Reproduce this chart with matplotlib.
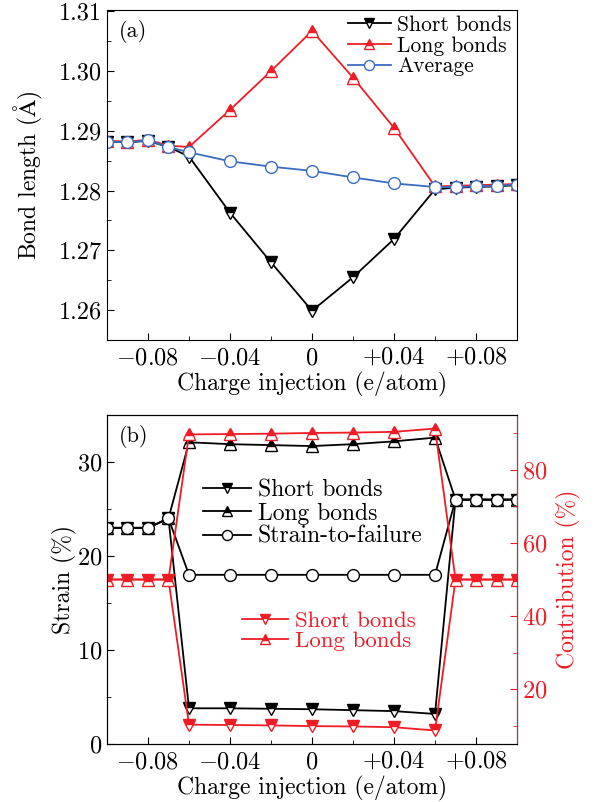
import numpy as np
import matplotlib
matplotlib.use('Agg')
import matplotlib.pyplot as plt
from matplotlib.ticker import MultipleLocator, FixedLocator, FixedFormatter

plt.rcParams['font.family'] = ['cmr10', 'DejaVu Serif']
plt.rcParams['mathtext.fontset'] = 'cm'
plt.rcParams['axes.formatter.use_mathtext'] = True
plt.rcParams['axes.unicode_minus'] = False

# charge injection (e/atom)
charge = [-0.10, -0.09, -0.08, -0.07, -0.06, -0.04, -0.02, 0.0,
          0.02, 0.04, 0.06, 0.07, 0.08, 0.09, 0.10]

# (a) bond length (Angstrom)
short_len = [1.2882, 1.2881, 1.2883, 1.2873, 1.2857, 1.2763, 1.2680, 1.2599,
             1.2655, 1.2719, 1.2802, 1.2805, 1.2806, 1.2807, 1.2809]
long_len = [1.2883, 1.2882, 1.2885, 1.2875, 1.2873, 1.2935, 1.3000, 1.3067,
            1.2989, 1.2905, 1.2807, 1.2808, 1.2809, 1.2810, 1.2811]
avg_len = [1.2882, 1.2881, 1.2884, 1.2873, 1.2864, 1.2849, 1.2840, 1.2833,
           1.2822, 1.2812, 1.2806, 1.2806, 1.2807, 1.2808, 1.2810]

# (b) strain (%)
short_strain = [23, 23, 23, 24, 3.8, 3.8, 3.75, 3.7, 3.6, 3.5, 3.2, 26, 26, 26, 26]
long_strain = [23, 23, 23, 24, 32.1, 31.9, 31.8, 31.7, 31.9, 32.2, 32.6, 26, 26, 26, 26]
failure_strain = [23, 23, 23, 24, 18, 18, 18, 18, 18, 18, 18, 26, 26, 26, 26]

# (b) contribution (%)
short_contrib = [50, 50, 50, 50, 10.3, 10.2, 10.1, 9.9, 9.8, 9.6, 8.7, 50, 50, 50, 50]
long_contrib = [50, 50, 50, 50, 89.7, 89.8, 89.9, 90.1, 90.2, 90.4, 91.3, 50, 50, 50, 50]

xticks = [-0.08, -0.04, 0.0, 0.04, 0.08]
xticklabels = [r'$-0.08$', r'$-0.04$', r'$0$', r'$+0.04$', r'$+0.08$']

RED = '#ee1c25'
BLUE = '#3a6cc0'
TS = 17.5   # tick labels
LS = 17     # axis labels

fig = plt.figure(figsize=(5.96, 8.02), dpi=100)
ax1 = fig.add_axes([0.1795, 0.576, 0.688, 0.4115])
ax2 = fig.add_axes([0.1795, 0.0723, 0.688, 0.4102])


def style_x(ax):
    ax.set_xlim(-0.1, 0.1)
    ax.xaxis.set_major_locator(FixedLocator(xticks))
    ax.xaxis.set_major_formatter(FixedFormatter(xticklabels))
    ax.xaxis.set_minor_locator(MultipleLocator(0.02))
    ax.tick_params(axis='x', which='major', pad=5)
    ax.set_xlabel('Charge injection (e/atom)', fontsize=LS, labelpad=2)


def half(marker, color, ms=8.5):
    return dict(marker=marker, color=color, markerfacecolor=color,
                markerfacecoloralt='white', fillstyle='top',
                markeredgecolor=color, ms=ms, lw=1.3)


# ---- panel (a)
ax1.plot(charge, short_len, label='Short bonds', **half('v', 'black'))
ax1.plot(charge, long_len, label='Long bonds', **half('^', RED))
ax1.plot(charge, avg_len, 'o-', color=BLUE, mfc='white', mec=BLUE, ms=8.5,
         lw=1.3, label='Average')
ax1.set_ylim(1.255, 1.3102)
ax1.yaxis.set_major_locator(MultipleLocator(0.01))
ax1.yaxis.set_minor_locator(MultipleLocator(0.005))
ax1.yaxis.set_major_formatter(plt.FormatStrFormatter('%.2f'))
ax1.tick_params(which='both', direction='in', top=False, right=False,
                labelsize=TS)
ax1.tick_params(which='major', length=5)
ax1.tick_params(which='minor', length=3)
style_x(ax1)
ax1.set_ylabel('Bond length (' + r'$\mathrm{\AA}$' + ')', fontsize=LS,
               labelpad=10)
ax1.text(0.03, 0.97, '(a)', transform=ax1.transAxes, fontsize=16,
         va='top', ha='left')
ax1.legend(loc='upper right', frameon=False, fontsize=15.5, handlelength=2.0,
           handletextpad=0.3, borderaxespad=0.05, labelspacing=0.05,
           markerscale=0.85, borderpad=0.2)

# ---- panel (b)
l1, = ax2.plot(charge, short_strain, label='Short bonds', **half('v', 'black'))
l2, = ax2.plot(charge, long_strain, label='Long bonds', **half('^', 'black'))
l3, = ax2.plot(charge, failure_strain, 'o-', color='black', mfc='white',
               mec='black', ms=8.5, lw=1.3, label='Strain-to-failure')
ax2.set_ylim(0, 35)
ax2.yaxis.set_major_locator(MultipleLocator(10))
ax2.yaxis.set_minor_locator(MultipleLocator(5))
ax2.tick_params(which='both', direction='in', top=False, right=False,
                labelsize=TS)
ax2.tick_params(which='major', length=5)
ax2.tick_params(which='minor', length=3)
style_x(ax2)
ax2.set_ylabel('Strain (%)', fontsize=LS, labelpad=0)
ax2.text(0.03, 0.97, '(b)', transform=ax2.transAxes, fontsize=16,
         va='top', ha='left')

ax3 = ax2.twinx()
r1, = ax3.plot(charge, short_contrib, label='Short bonds', **half('v', RED))
r2, = ax3.plot(charge, long_contrib, label='Long bonds', **half('^', RED))
ax3.set_ylim(5, 95)
ax3.yaxis.set_major_locator(MultipleLocator(20))
ax3.yaxis.set_minor_locator(MultipleLocator(10))
ax3.set_ylabel('Contribution (%)', fontsize=LS, color=RED, labelpad=6)
ax3.spines['right'].set_color(RED)
ax3.tick_params(which='both', direction='in', colors=RED, labelsize=TS)
ax3.tick_params(which='major', length=5)
ax3.tick_params(which='minor', length=3)

leg1 = ax3.legend(handles=[l1, l2, l3], loc='upper left',
                  bbox_to_anchor=(0.235, 0.805), frameon=False, fontsize=17,
                  handlelength=2.0, handletextpad=0.3, labelspacing=0.05,
                  markerscale=0.85, borderpad=0.0, borderaxespad=0.0)
ax3.add_artist(leg1)
leg2 = ax3.legend(handles=[r1, r2], loc='upper left',
                  bbox_to_anchor=(0.33, 0.405), frameon=False, fontsize=16.5,
                  handlelength=2.0, handletextpad=0.3, labelspacing=0.0,
                  markerscale=0.85, labelcolor=RED, borderpad=0.0,
                  borderaxespad=0.0)

fig.savefig('out.png', dpi=100)
